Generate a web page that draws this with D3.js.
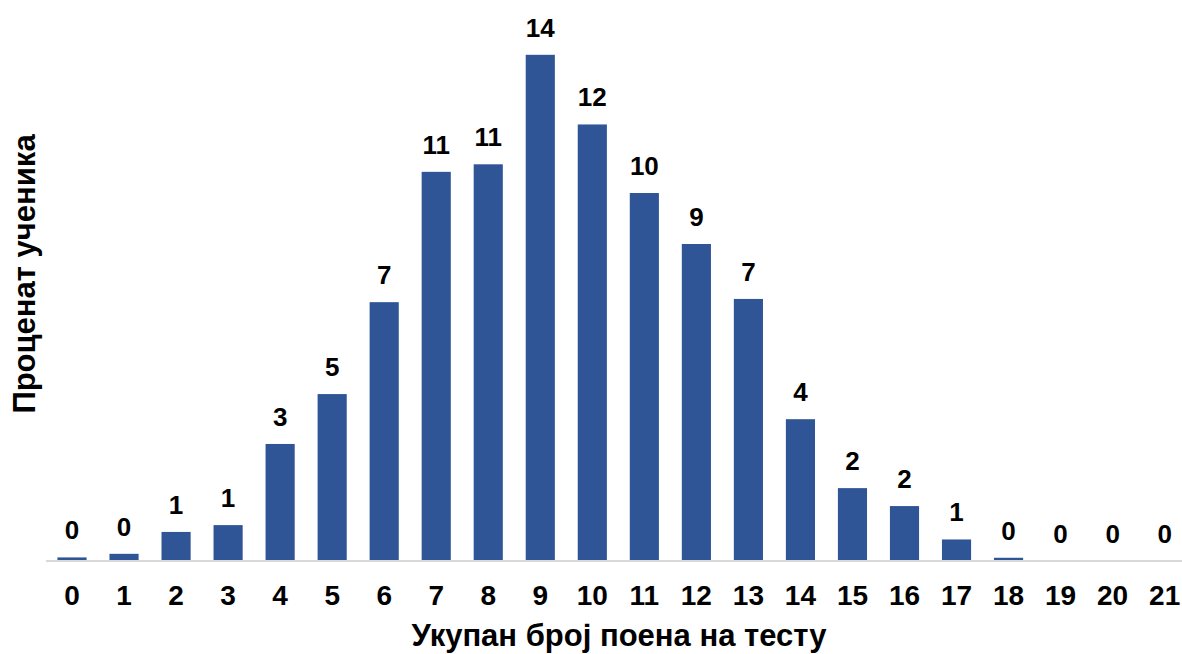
<!DOCTYPE html>
<html>
<head>
<meta charset="utf-8">
<script src="https://cdn.jsdelivr.net/npm/d3@7"></script>
<style>
  html, body { margin: 0; padding: 0; background: #ffffff; }
  svg { display: block; font-family: "Liberation Sans", Arial, sans-serif; }
</style>
</head>
<body>
<svg id="chart" width="1182" height="654"></svg>
<script>
// Score distribution: share of students (%) per total test score
const scores = ["0","1","2","3","4","5","6","7","8","9","10","11","12","13","14","15","16","17","18","19","20","21"];
const percents = [0.1, 0.2, 0.81, 1.0, 3.26, 4.65, 7.21, 10.84, 11.05, 14.1, 12.16, 10.25, 8.83, 7.3, 3.95, 2.03, 1.53, 0.6, 0.09, 0, 0, 0];
const xTitle = "Укупан број поена на тесту";
const yTitle = "Проценат ученика";

const svg = d3.select("#chart");
const baseY = 561;
const left = 46, step = 52.03;

const x = d3.scaleBand()
  .domain(scores)
  .range([left, left + step * scores.length])
  .paddingInner(0.44)
  .paddingOuter(0.22);

const y = d3.scaleLinear()
  .domain([0, 15])
  .range([baseY, baseY - 15 * 35.9]);

const data = scores.map((s, i) => ({ s, v: percents[i] }));

// bars
svg.append("g").selectAll("rect")
  .data(data)
  .join("rect")
  .attr("x", d => x(d.s))
  .attr("width", x.bandwidth())
  .attr("y", d => y(d.v))
  .attr("height", d => y(0) - y(d.v))
  .attr("fill", "#2F5597");

// baseline axis
const xAxis = d3.axisBottom(x).tickSize(0).tickPadding(0);
const gx = svg.append("g")
  .attr("transform", `translate(0,${baseY})`)
  .call(xAxis);
gx.select(".domain").attr("stroke", "#d9d9d9").attr("stroke-width", 2)
  .attr("d", `M${left},0H1182`);
gx.selectAll(".tick text")
  .attr("y", 44)
  .attr("dy", null)
  .attr("font-size", 28)
  .attr("font-weight", "bold")
  .attr("fill", "#000")
  .attr("font-family", "Liberation Sans, Arial, sans-serif");

// value labels rounded to whole percent
const fmt = d3.format(".0f");
svg.append("g").selectAll("text")
  .data(data)
  .join("text")
  .attr("x", d => x(d.s) + x.bandwidth() / 2)
  .attr("y", d => y(d.v) - 18)
  .attr("text-anchor", "middle")
  .attr("font-size", 26)
  .attr("font-weight", "bold")
  .attr("fill", "#000")
  .text(d => fmt(d.v));

// axis titles
svg.append("text")
  .attr("x", 619)
  .attr("y", 646)
  .attr("text-anchor", "middle")
  .attr("font-size", 31)
  .attr("font-weight", "bold")
  .attr("fill", "#000")
  .text(xTitle);

svg.append("text")
  .attr("transform", `translate(35,274) rotate(-90)`)
  .attr("text-anchor", "middle")
  .attr("font-size", 31)
  .attr("font-weight", "bold")
  .attr("fill", "#000")
  .text(yTitle);
</script>
</body>
</html>
